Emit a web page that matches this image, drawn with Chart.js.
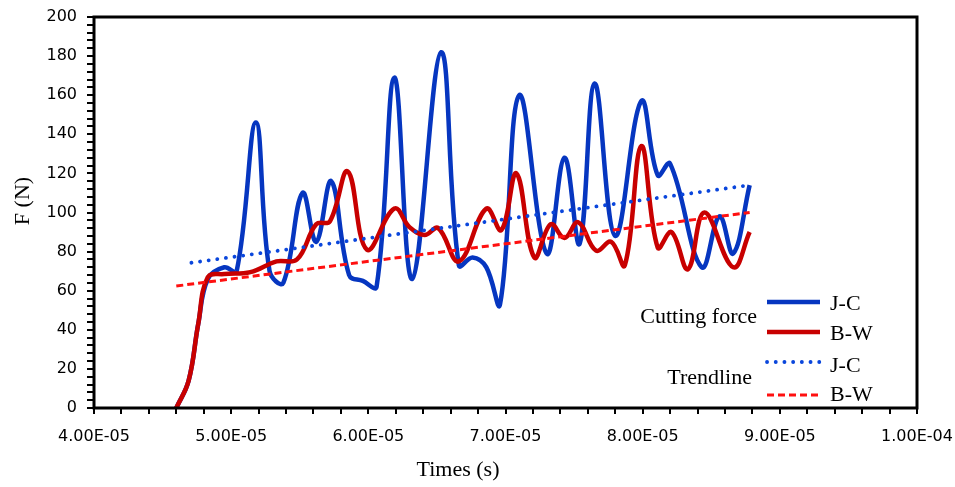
<!DOCTYPE html>
<html>
<head>
<meta charset="utf-8">
<script src="https://cdn.jsdelivr.net/npm/chart.js@4.4.1/dist/chart.umd.min.js"></script>
<style>
  html, body { margin: 0; padding: 0; background: #fff; }
  #wrap { width: 955px; height: 487px; position: relative; }
</style>
</head>
<body>
<div id="wrap"><canvas id="forceChart"></canvas></div>
<script>
// Times in microseconds (labels show seconds), forces in N
const jcTime  = [46.0, 46.9, 47.6, 48.3, 49.5, 50.4, 51.8, 52.8, 53.8, 55.2, 56.2, 57.3, 58.6, 59.6, 60.6, 61.9, 63.2, 65.3, 66.6, 67.6, 68.6, 69.6, 71.0, 73.0, 74.3, 75.4, 76.5, 78.0, 79.9, 81.1, 82.0, 84.3, 85.6, 86.6, 87.8];
const jcForce = [0, 14, 43, 66, 72, 70, 146, 70, 64, 110, 85, 116, 68, 65, 62, 169, 66, 182, 73, 77, 72, 53, 160, 79, 128, 84, 166, 88, 157, 119, 125, 72, 98, 79, 114];

const bwTime  = [46.0, 46.9, 47.6, 48.3, 49.5, 51.4, 53.3, 54.8, 56.2, 57.2, 58.5, 59.9, 61.9, 63.0, 64.1, 65.1, 66.6, 68.6, 69.7, 70.8, 72.1, 73.3, 74.3, 75.3, 76.6, 77.7, 78.7, 79.9, 81.1, 82.1, 83.3, 84.5, 86.6, 87.8];
const bwForce = [0, 14, 43, 67, 68.5, 69.5, 75, 76, 94, 95.5, 121, 81, 102, 92.5, 88.5, 92, 75, 102, 91, 120, 77, 94, 87, 95, 80.5, 85, 73, 134, 82, 90, 71, 100, 72, 90];

const jcTrendTime  = [47.1, 87.8];
const jcTrendForce = [74.3, 114];
const bwTrendTime  = [46.0, 87.8];
const bwTrendForce = [62.4, 100];

const xMin = 40, xMax = 100, xMinorStep = 2, xMajorStep = 10;
const yMin = 0, yMax = 200, yMinorStep = 4, yMajorStep = 20;

const xTitle = 'Times (s)';
const yTitle = 'F (N)';
const legendGroups = ['Cutting force', 'Trendline'];
const seriesNames = ['J-C', 'B-W', 'J-C', 'B-W'];

const toPoints = (xs, ys) => xs.map((x, i) => ({ x, y: ys[i] }));
const isMultiple = (v, step) => Math.abs(v / step - Math.round(v / step)) < 1e-6;

// 4.00E-05 style
function sciLabel(us) {
  const [m, e] = (us * 1e-6).toExponential(2).split('e');
  const n = parseInt(e, 10);
  return m + 'E' + (n < 0 ? '-' : '+') + String(Math.abs(n)).padStart(2, '0');
}

const SERIF = '"Liberation Serif", "Times New Roman", serif';

// frame round the plot area
const frame = {
  id: 'frame',
  afterDraw(chart) {
    const { ctx, chartArea: a } = chart;
    ctx.save();
    ctx.strokeStyle = '#000';
    ctx.lineWidth = 3;
    ctx.strokeRect(a.left, a.top, a.right - a.left, a.bottom - a.top);
    ctx.restore();
  }
};

// axis titles, placed off-centre like the original
const titles = {
  id: 'titles',
  afterDraw(chart) {
    const { ctx, chartArea: a } = chart;
    ctx.save();
    ctx.fillStyle = '#000';
    ctx.font = '22px ' + SERIF;
    ctx.textAlign = 'center';
    ctx.textBaseline = 'middle';
    ctx.fillText(xTitle, 458, a.bottom + 62);
    ctx.translate(23, a.top + 184);
    ctx.rotate(-Math.PI / 2);
    ctx.fillText(yTitle, 0, 0);
    ctx.restore();
  }
};

// grouped legend in the lower right corner
const groupedLegend = {
  id: 'groupedLegend',
  afterDraw(chart) {
    const { ctx, chartArea: a } = chart;
    const sx1 = a.right - 150, sx2 = a.right - 97;
    const rows = [
      { ds: 0, y: a.bottom - 106, ty: a.bottom - 98 },
      { ds: 1, y: a.bottom - 76,  ty: a.bottom - 68 },
      { ds: 2, y: a.bottom - 46,  ty: a.bottom - 36 },
      { ds: 3, y: a.bottom - 13,  ty: a.bottom - 7 }
    ];
    ctx.save();
    ctx.fillStyle = '#000';
    ctx.font = '22px ' + SERIF;
    ctx.textBaseline = 'alphabetic';
    ctx.textAlign = 'right';
    ctx.fillText(legendGroups[0], a.right - 160, a.bottom - 85);
    ctx.fillText(legendGroups[1], a.right - 165, a.bottom - 24);
    rows.forEach(r => {
      const ds = chart.data.datasets[r.ds];
      ctx.save();
      ctx.strokeStyle = ds.borderColor;
      ctx.lineWidth = ds.borderWidth;
      ctx.lineCap = ds.borderCapStyle || 'butt';
      ctx.setLineDash(ds.borderDash || []);
      ctx.beginPath();
      ctx.moveTo(sx1, r.y);
      ctx.lineTo(sx2, r.y);
      ctx.stroke();
      ctx.restore();
      ctx.textAlign = 'left';
      ctx.fillText(seriesNames[r.ds], a.right - 87, r.ty);
    });
    ctx.restore();
  }
};

new Chart(document.getElementById('forceChart'), {
  type: 'scatter',
  data: {
    datasets: [
      { label: 'J-C', data: toPoints(jcTime, jcForce), showLine: true, borderColor: '#0636c0', borderWidth: 4.5, tension: 0.4, order: 3 },
      { label: 'B-W', data: toPoints(bwTime, bwForce), showLine: true, borderColor: '#c80000', borderWidth: 4.5, tension: 0.4, order: 2 },
      { label: 'J-C trend', data: toPoints(jcTrendTime, jcTrendForce), showLine: true, borderColor: '#0a46dc', borderWidth: 3.8, borderDash: [0.1, 8.6], borderCapStyle: 'round', order: 1 },
      { label: 'B-W trend', data: toPoints(bwTrendTime, bwTrendForce), showLine: true, borderColor: '#ff1010', borderWidth: 3, borderDash: [7, 4], order: 0 }
    ]
  },
  options: {
    responsive: true,
    maintainAspectRatio: false,
    animation: false,
    elements: { point: { radius: 0, hoverRadius: 0 } },
    layout: { padding: { left: 0, top: 17, right: 38, bottom: 0 } },
    plugins: { legend: { display: false }, tooltip: { enabled: false } },
    scales: {
      x: {
        type: 'linear',
        min: xMin, max: xMax,
        afterFit: s => { s.height = 79; s.paddingLeft = 0; s.paddingRight = 0; },
        border: { display: false },
        grid: { drawOnChartArea: false, drawTicks: true, tickLength: 6, color: '#000', lineWidth: 2 },
        ticks: {
          stepSize: xMinorStep, autoSkip: false, maxRotation: 0, padding: 13,
          color: '#000', font: { family: '"DejaVu Sans", Verdana, sans-serif', size: 16 },
          callback: v => isMultiple(v, xMajorStep) ? sciLabel(v) : ''
        }
      },
      y: {
        min: yMin, max: yMax,
        afterFit: s => { s.width = 94; s.paddingTop = 0; s.paddingBottom = 0; },
        border: { display: false },
        grid: { drawOnChartArea: false, drawTicks: true, tickLength: 7, color: '#000', lineWidth: 2 },
        ticks: {
          stepSize: yMinorStep, autoSkip: false, padding: 10,
          color: '#000', font: { family: '"DejaVu Sans", Verdana, sans-serif', size: 16 },
          callback: v => isMultiple(v, yMajorStep) ? String(Math.round(v)) : ''
        }
      }
    }
  },
  plugins: [frame, titles, groupedLegend]
});
</script>
</body>
</html>
